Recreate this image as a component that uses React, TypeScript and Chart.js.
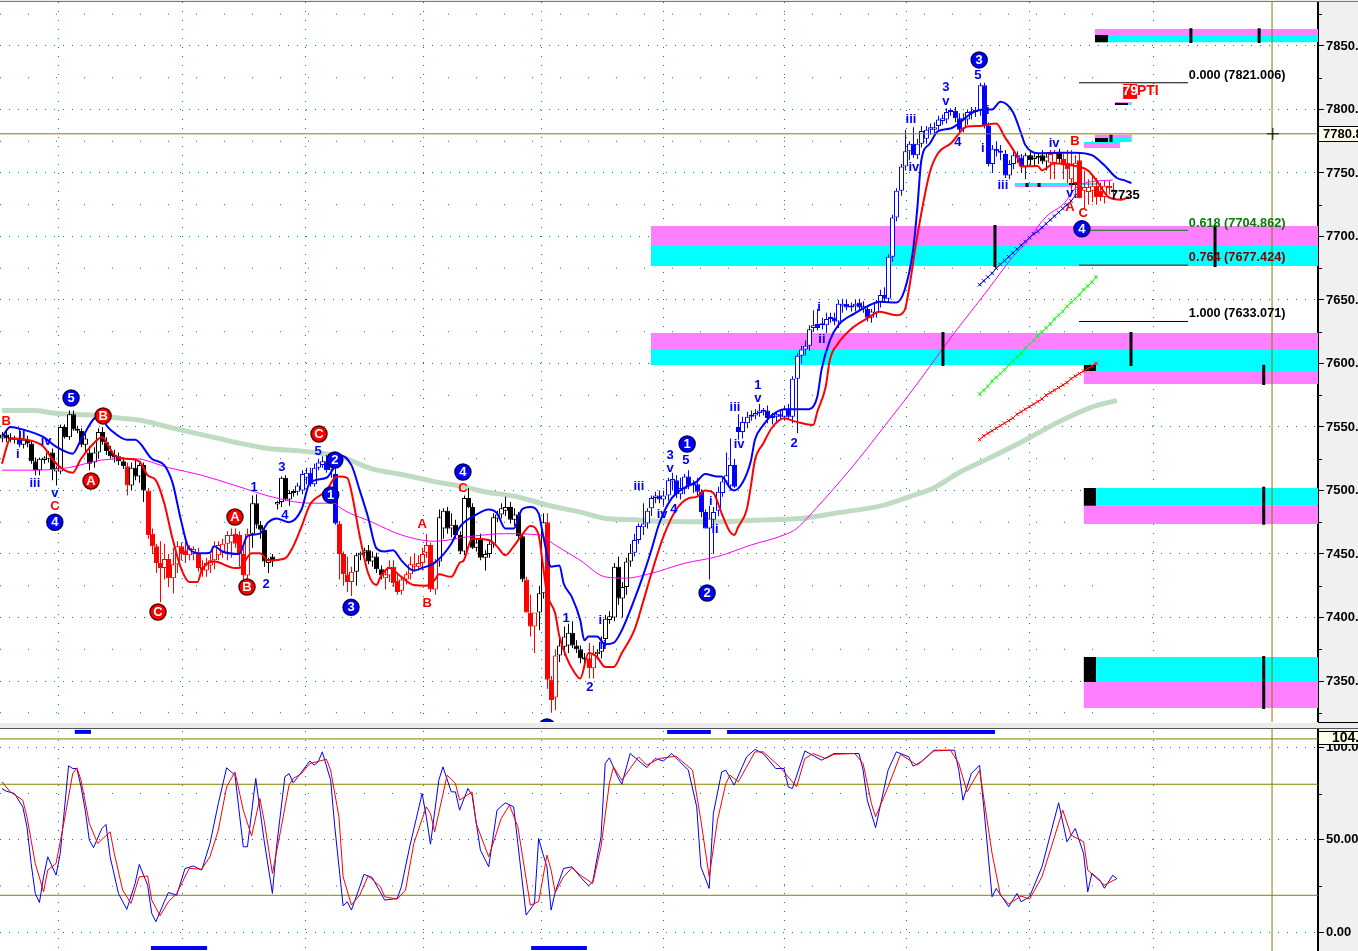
import React, { useEffect, useRef } from "react";
import { Chart, registerables } from "chart.js";

Chart.register(...registerables);

// ---- candles: [open, high, low, close], one row per bar, in bar order ----
const candlesA = [
  [7541,7546,7538,7544],[7544,7547,7538,7541],[7542,7545,7538,7540],[7540,7543,7537,7541],[7541,7549,7534,7536],
  [7536,7542,7533,7540],[7540,7543,7534,7537],[7537,7539,7521,7523],[7523,7526,7512,7516],[7516,7526,7512,7525],
  [7524,7527,7521,7526],[7525,7531,7522,7530],[7530,7533,7508,7517],[7515,7519,7504,7518],[7515,7552,7513,7550],
  [7550,7552,7541,7542],[7542,7563,7540,7560],[7560,7563,7547,7548],[7548,7551,7545,7547],[7547,7549,7534,7536],
  [7536,7546,7530,7541],[7530,7535,7516,7521],[7522,7534,7518,7530],[7530,7549,7525,7546],[7546,7550,7536,7538],
  [7538,7542,7528,7531],[7531,7535,7525,7527],[7528,7532,7522,7526],[7527,7530,7520,7523],[7523,7526,7517,7519],
];
const candlesB = [
  [7519,7522,7496,7504],[7504,7522,7500,7518],[7518,7525,7508,7511],[7511,7522,7506,7520],[7520,7522,7491,7500],
  [7500,7502,7462,7465],[7466,7470,7450,7456],[7456,7458,7435,7443],[7443,7460,7412,7439],[7439,7458,7430,7446],
  [7446,7450,7424,7431],[7431,7455,7419,7442],[7442,7460,7435,7456],[7456,7459,7445,7450],[7453,7460,7443,7449],
  [7449,7457,7445,7455],[7450,7456,7445,7454],[7450,7455,7436,7439],[7440,7445,7432,7437],[7437,7447,7432,7443],
  [7441,7450,7435,7445],[7445,7460,7438,7456],[7449,7460,7445,7457],[7451,7462,7447,7458],[7458,7468,7445,7465],
  [7459,7470,7447,7465],[7466,7470,7455,7458],[7465,7468,7440,7450],[7450,7455,7430,7433],[7433,7470,7430,7466],
];
const candlesC = [
  [7466,7496,7455,7490],[7490,7497,7470,7473],[7473,7476,7462,7469],[7469,7472,7440,7444],[7443,7447,7435,7446],
  [7448,7450,7440,7444],[7489,7492,7485,7491],[7491,7511,7487,7510],[7510,7512,7492,7493],[7493,7500,7488,7498],
  [7498,7501,7495,7499],[7499,7506,7496,7504],[7500,7516,7497,7513],[7510,7518,7505,7514],[7514,7518,7503,7505],
  [7505,7521,7503,7518],[7518,7525,7516,7522],[7520,7527,7518,7523],[7523,7528,7514,7516],[7516,7522,7510,7519],
  [7513,7520,7473,7474],[7474,7476,7430,7450],[7450,7452,7425,7434],[7434,7448,7420,7428],[7428,7440,7417,7436],
  [7436,7451,7425,7449],[7449,7452,7445,7451],[7451,7455,7446,7453],[7453,7457,7442,7444],[7444,7452,7440,7448],
];
const candlesD = [
  [7448,7451,7435,7438],[7438,7441,7430,7433],[7431,7437,7422,7434],[7433,7445,7428,7440],[7440,7445,7424,7427],
  [7429,7434,7418,7420],[7421,7432,7418,7430],[7430,7436,7426,7434],[7434,7448,7430,7442],[7440,7450,7436,7442],
  [7440,7449,7437,7443],[7443,7455,7437,7450],[7451,7466,7447,7457],[7457,7459,7420,7422],[7422,7446,7418,7444],
  [7444,7485,7440,7479],[7470,7486,7462,7484],[7484,7487,7466,7470],[7470,7482,7463,7473],[7473,7477,7462,7465],
  [7465,7468,7450,7452],[7452,7496,7449,7494],[7494,7502,7486,7487],[7487,7490,7454,7455],[7455,7462,7452,7459],
  [7462,7466,7445,7447],[7447,7453,7437,7450],[7450,7460,7447,7458],[7458,7482,7455,7479],[7478,7484,7475,7481],
];
const candlesE = [
  [7481,7490,7478,7486],[7484,7495,7480,7487],[7487,7491,7474,7477],[7477,7486,7472,7481],[7481,7483,7462,7464],
  [7464,7466,7428,7430],[7430,7432,7404,7404],[7404,7418,7385,7393],[7393,7403,7372,7404],[7404,7425,7390,7419],
  [7419,7482,7415,7475],[7475,7482,7344,7351],[7351,7354,7325,7335],[7337,7375,7327,7370],[7370,7384,7365,7378],
  [7377,7393,7370,7385],[7378,7395,7372,7388],[7388,7397,7376,7378],[7378,7382,7372,7375],[7375,7378,7364,7368],
  [7368,7372,7360,7367],[7368,7380,7352,7360],[7360,7378,7352,7371],[7371,7375,7367,7373],[7373,7385,7368,7381],
  [7383,7402,7378,7399],[7398,7405,7395,7401],[7400,7443,7397,7440],[7440,7448,7410,7415],[7415,7428,7400,7424],
];
const candlesF = [
  [7424,7447,7418,7444],[7444,7458,7440,7451],[7451,7466,7448,7461],[7461,7474,7458,7472],[7471,7490,7465,7474],
  [7474,7486,7470,7484],[7486,7496,7480,7494],[7494,7499,7490,7496],[7496,7500,7490,7493],[7493,7500,7488,7496],
  [7496,7510,7492,7508],[7507,7514,7500,7509],[7508,7512,7494,7497],[7497,7510,7493,7502],[7501,7513,7497,7511],
  [7511,7516,7501,7504],[7504,7508,7498,7505],[7505,7510,7496,7499],[7499,7501,7479,7483],[7483,7485,7470,7470],
  [7470,7488,7430,7478],[7477,7487,7450,7483],[7484,7503,7480,7499],[7498,7510,7495,7507],[7507,7530,7505,7512],
  [7504,7541,7500,7520],[7520,7525,7502,7503],[7550,7560,7540,7546],[7546,7558,7541,7554],[7553,7562,7549,7558],
];
const candlesG = [
  [7558,7563,7555,7559],[7559,7564,7556,7561],[7561,7568,7558,7563],[7562,7565,7559,7563],[7563,7567,7553,7557],
  [7557,7561,7552,7558],[7558,7561,7553,7560],[7560,7563,7556,7558],[7558,7567,7555,7564],[7564,7568,7556,7558],
  [7558,7590,7553,7588],[7588,7608,7545,7606],[7606,7614,7600,7611],[7611,7618,7606,7614],[7614,7630,7610,7627],
  [7628,7642,7625,7630],[7631,7643,7626,7628],[7630,7636,7627,7631],[7630,7640,7624,7635],[7635,7640,7632,7636],
  [7636,7640,7630,7633],[7633,7650,7628,7647],[7645,7651,7640,7647],[7647,7650,7642,7644],[7644,7648,7641,7645],
  [7645,7650,7641,7647],[7648,7651,7642,7644],[7643,7649,7640,7645],[7643,7646,7633,7636],[7636,7643,7632,7641],
];
const candlesH = [
  [7640,7650,7636,7648],[7648,7658,7644,7654],[7654,7660,7648,7651],[7651,7686,7648,7684],[7684,7717,7680,7715],
  [7715,7738,7712,7736],[7736,7757,7732,7755],[7755,7784,7752,7767],[7767,7775,7760,7773],[7773,7786,7762,7764],
  [7764,7777,7761,7773],[7773,7787,7770,7783],[7777,7787,7773,7784],[7784,7789,7780,7786],[7784,7790,7780,7786],
  [7787,7795,7783,7792],[7791,7796,7788,7793],[7792,7801,7789,7798],[7798,7801,7795,7799],[7799,7802,7790,7793],
  [7793,7797,7780,7784],[7785,7797,7782,7793],[7792,7800,7788,7798],[7797,7802,7792,7798],[7798,7802,7794,7799],
  [7799,7821,7795,7819],[7819,7821,7785,7787],[7787,7790,7755,7757],[7757,7772,7750,7769],[7769,7775,7763,7767],
];
const candlesI = [
  [7767,7772,7760,7766],[7765,7768,7746,7748],[7748,7760,7745,7757],[7757,7767,7753,7764],[7764,7767,7758,7762],
  [7762,7765,7750,7755],[7755,7766,7745,7764],[7764,7768,7756,7760],[7761,7766,7755,7763],[7762,7766,7757,7763],
  [7764,7768,7757,7759],[7759,7766,7752,7763],[7758,7768,7745,7765],[7758,7768,7745,7766],[7766,7769,7758,7761],
  [7761,7765,7745,7756],[7758,7768,7742,7753],[7745,7768,7735,7757],[7742,7764,7730,7758],[7760,7766,7730,7730],
  [7736,7752,7722,7739],[7735,7745,7725,7739],[7736,7749,7727,7740],[7740,7746,7725,7731],[7736,7742,7728,7731],
  [7731,7744,7726,7740],[7740,7744,7733,7738],[7737,7742,7731,7735],
];
const candles = [...candlesA, ...candlesB, ...candlesC, ...candlesD, ...candlesE, ...candlesF, ...candlesG, ...candlesH, ...candlesI];

// ---- overlays on the price panel: [bar, price] ----
const blueBand = [
  [0,7542],[2,7550],[5,7548],[10,7542],[13,7534.5],[17,7529],[19,7540],[23,7558],[26,7548],[30,7540],[32,7540],[36,7525],[39,7520],[41,7506],[43,7477],[45,7454],[48,7450.5],[50,7451],[51,7456],[53,7452],[57,7450],[59,7464],[62,7466],[64,7475],[66,7478],[69,7475],[72,7485],[74,7506],[78,7510],[80,7520],
  [81,7528],[84,7520],[86,7500],[88,7479],[90,7454.5],[92,7452],[94,7453],[96,7445],[99,7437],[101,7439],[104,7443],[108,7458],[110,7471],[114,7481],[117,7485],[119,7482],[121,7470],[123,7470],[125,7485],[127,7487],[129,7482],[130,7466],[132,7440],[134,7441],[135,7427],[137,7416],[139,7398],[140,7382],[141,7385],[143,7385],[145,7379],[147,7380],[149,7390],[152,7414],[154,7432],
  [156,7452],[158,7474],[161,7494],[164,7502],[167,7507],[169,7513],[172,7511],[173,7511],[175,7502],[176,7500],[178,7506],[180,7523],[181,7540],[183,7551.5],[185,7559],[188,7564],[194,7564],[196,7574],[197,7595],[199,7618],[201,7630],[205,7639.5],[208,7645],[211,7648.6],[215,7648],
  [217,7658],[219,7689],[220,7721],[221,7760],[223,7773],[225,7783],[228,7785],[230,7789],[233,7797],[236,7800],[238,7800],[240,7806],[243,7798],[245,7781],[246,7772],[249,7765.5],[254,7766],[258,7766],[262,7764],[265,7756],[268,7746],[270,7744],[271.5,7742],
];
const redBand = [
  [0,7521],[1,7533],[2,7541],[6,7540],[10,7534.5],[12,7525],[15,7516],[17,7514],[19,7525],[22,7537],[24,7542],[27,7528],[30,7525],[33,7523],[35,7512],[37,7508],[39,7490],[41,7462],[43,7439],[45,7428],[47,7428],[48,7437],[51,7444],[56,7439],[57,7439],[60,7450.5],[62,7450.5],[64,7445],[68,7446.5],[70,7456],[72,7471.5],[74,7488.6],[78,7500],[80,7510],
  [81,7511],[83,7510],[84,7499],[86,7464],[88,7435],[90,7425.5],[91,7432],[93,7439],[96,7432],[99,7425.5],[102,7425],[104,7429.5],[105,7434],[108,7432],[110,7443],[111,7445],[113,7462],[117,7461],[119,7456],[121,7449],[123,7456],[125,7465],[127,7472],[129,7465],[130,7442],[131,7419],[133,7403],[134,7385],[136,7366.5],[137,7360],[139,7352],[141,7372],[143,7369],[145,7361],[147,7361],[149,7372],[152,7390],[154,7411],
  [156,7433.4],[159,7463.6],[162,7484.6],[165,7493.8],[167,7495],[169,7500],[171,7498],[173,7482],[175,7467.5],[176,7464.9],[177,7471.5],[179,7484.6],[180,7503],[181,7524],[183,7537],[185,7549],[188,7556.8],[191,7554],[195,7551.5],[196,7562],[198,7581.7],[199,7602.7],[201,7615.8],[204,7626.8],[208,7635.5],[211,7640.8],[215,7638],[217,7642],
  [218,7658],[220,7700],[223,7750],[225,7765.5],[228,7773],[232,7786.5],[235,7787],[239,7789],[241,7778.6],[244,7763],[245,7755],[249,7755.5],[250,7752],[253,7757.6],[257,7756],[261,7752],[263,7744.5],[266,7731],[269,7729],[271,7731],
];
const magentaAverage = [
  [0,7516],[8,7516],[16,7518],[24,7524],[32,7525],[40,7518],[48,7512],[56,7504],[66,7494],[74,7490],[80,7490],[81,7487],[89,7475],[96,7465],[104,7460],[113,7464],[121,7466],[129,7465],[133,7457],[139,7445],[145,7432],[150,7431],[156,7434.7],[164,7442.6],[172,7448],[180,7457],[188,7465],[191,7470],[196,7487],[204,7517],[212,7550],[220,7584],[228,7620],[237,7658],[243,7684],[246,7694.6],[251,7715.6],[255,7725],[259,7740.5],[267,7744.5],
];
const greenAverage = [
  [0,7563],[8,7563],[12,7561],[21,7559.4],[28,7557],[33,7555.5],[40,7550],[48,7544],[56,7538],[64,7533],[72,7531],[81,7527],[89,7517],[97,7512],[104,7507],[111,7503],[116,7499],[124,7495],[131,7488.6],[139,7483],[145,7478],[152,7477],[156,7476],[172,7475.4],[184,7477],[192,7478],[200,7482],[212,7488.5],[218,7495],[224,7502],[230,7514],[238,7526.6],[246,7539.8],[254,7554],[262,7565.7],[268,7571],
];
const crossBars = [235,236,237,238,239,240,241,242,243,244,245,246,247,248,249,250,251,252,253,254,255,256,257,258,259,260,261,262,263];
const blueCrossLine = [7662,7665,7668,7671,7675,7678,7681,7684,7687,7690,7693,7696,7699,7702,7704,7707,7710,7713,7716,7719,7722,7725,7728,7732];
const greenCrossLine = [7576,7579,7582,7586,7589,7592,7595,7599,7602,7605,7608,7612,7615,7618,7622,7625,7628,7631,7635,7638,7641,7645,7648,7651,7654,7658,7661,7664,7668];
const redCrossLine = [7540,7543,7545,7547,7549,7551,7553,7555,7557,7560,7562,7564,7566,7568,7570,7572,7575,7577,7579,7581,7583,7585,7588,7590,7592,7594,7596,7598,7600];

// ---- zones: [start bar, end bar, upper price, lower price] ----
const LAST_BAR = 316.35;
const magentaZones = [
  [156,LAST_BAR,7708.3,7692.5],[156,LAST_BAR,7624,7610.6],[260,LAST_BAR,7594,7583.9],[260,LAST_BAR,7488,7473.6],[260,LAST_BAR,7349.2,7328.7],
  [262.7,LAST_BAR,7863.4,7858.7],[262.7,271.6,7780,7777.6],[260,268.8,7772.8,7769.7],[243.5,257.5,7740.6,7739],[267.5,271.6,7805.9,7805],
];
const cyanZones = [
  [156,LAST_BAR,7692.5,7676.8],[156,LAST_BAR,7610.6,7598.8],[263,LAST_BAR,7598.8,7594],[263,LAST_BAR,7502,7488],[263,LAST_BAR,7368.9,7349.2],
  [262.7,LAST_BAR,7858.7,7853],[262.7,271.6,7777.6,7774.4],[260,268.8,7774.4,7772.8],[243.5,263,7742,7740.6],[270.7,271.6,7805,7803.5],
];
const blackZones = [
  [260,263,7598.8,7594],[260,263,7502,7488],[260,263,7368.9,7349.2],[262.7,265.9,7858.7,7853],[262.7,265.9,7777.6,7774.4],[267.5,270.7,7805,7803.5],[256.5,259.5,7742,7740.6],
];
// [bar, upper price, lower price]
const zoneMarks = [
  [238.7,7709,7676],[291.6,7709,7676],[226.2,7624.8,7598],[271.4,7624.8,7598],[303.3,7599,7583],[303.3,7503,7473],[303.3,7369.7,7328],
  [285.8,7864,7852.4],[302.2,7864,7852.4],[266.6,7780,7774.4],[246.4,7742,7739],[249.3,7742,7739],
];

// ---- Fibonacci levels: [start bar, end bar, price] ----
const fibZero = [258.9,285.1,7821.006];
const fibGolden = [261.5,285.1,7704.862];
const fibDeep = [258.9,285.1,7677.424];
const fibFull = [258.9,285.1,7633.071];

// ---- reference levels ----
const currentPrice = 7780.8;
const cursorBar = 305.3;
const oscillatorLevels = [104.5,80,20];
const minorPriceLevels = [7325,7375,7425,7475,7525,7575,7625,7675,7725,7775,7825,7875];
const minorOscillatorLevels = [25,75];
const sessionBars = [28.4,58.2,87.7,114.9,144.5,173.3,203.1,232,261.8];

// ---- oscillator: [bar, value] ----
const stochK = [
  [0,77.7],[1,76.3],[3,75],[5,67.8],[6,57],[7,37.2],[8,21],[9,16.1],[10,30],[11,40.8],[13,30.9],[14,42.6],[16,90],[17,88.5],[18,88.5],[19,78.6],[20,66],[21,49.8],[22,45.8],[24,56],[25,58.3],[26,40.8],[28,21],[30,12.4],[32,26.4],[33,36.7],[35,25.5],[36,10.2],[37,5.7],[39,16.5],[40,21.5],[42,20.1],[44,34.5],[46,35.8],[48,33.6],[50,48],[52,69.6],[54,88.9],[56,84.9],[58,46.2],[59,46.2],[61,83.1],[63,49.8],[65,21],[66,46.2],[68,84],[69,85.8],[70,80.8],[71,83.6],[74,92.6],[75,90.3],[76,92.1],[77,97.5],[79,82.2],[80,57],[82,14.3],[83,16.5],[84,12],[86,24.6],[87,31.3],[89,29.6],[92,17.4],[95,18.3],[96,24.6],[98,46.2],[101,75],[102,62.4],[103,47.6],[105,82.2],[106,89.4],[108,75.9],[109,75.9],[110,66],[112,77.7],[113,74.1],[115,44.4],[117,35.4],[119,66],[121,70],[123,67.8],[124,48],[126,9.3],[128,15.6],[129,50.7],[130,42.6],[131,35.4],
  [132,12],[133,21.9],[135,34.5],[137,35.4],[139,30],[141,25.1],[142,27.3],[144,51.6],[145,91.2],[146,94.3],[148,84],[149,80],[151,96.6],[155,89],[157,93.9],[159,92.6],[161,96.6],[163,92.1],[165,87.6],[167,67.8],[168,35.4],[170,23.7],[171,64.2],[173,86.7],[174,87.6],[176,79.5],[179,94.8],[181,98.8],[183,96.6],[186,88.5],[188,88.5],[189,78.6],[190,77.7],[193,98],[197,93],[200,96.6],[206,96.6],[207,87.6],[208,71.4],[210,56.6],[213,87.6],[215,97.5],[218,94.8],[219,89.8],[221,92.1],[224,98.4],[229,98.4],[230,87.6],[231,71.4],[233,85.8],[235,90.3],[236,67.8],[238,19.2],[239,23.7],[242,13.8],[244,21],[245,16.5],[247,19.2],[250,35.4],[254,70],[256,48.9],[258,56.1],[260,42.6],[261,21.8],[262,31.9],[264,28],[265,23.8],[267,30.8],[268,29],
];
const stochD = [
  [0,81.3],[2,75.9],[5,71.4],[6,62.4],[8,37.2],[10,21.9],[11,33.6],[13,37.2],[15,60.6],[17,85.8],[18,88.9],[19,82.2],[21,58.8],[23,48],[26,54.3],[27,42.6],[29,22.8],[31,15.6],[33,30],[35,30.4],[36,17.4],[38,9],[40,16.5],[42,21],[45,34.5],[48,34.1],[50,40.8],[52,55.2],[54,78.6],[56,86.7],[58,66],[60,52.1],[62,72.3],[63,60.6],[65,31.8],[67,55.2],[69,79.5],[70,83.1],[72,85.8],[74,91.2],[78,93.5],[79,87.6],[81,62.4],[82,30],[84,14.7],[86,20.1],[88,30.5],[91,24.6],[92,19.2],[95,17.9],[97,22.8],[99,48],[102,67.8],[103,64.2],[104,54.3],[107,84.9],[109,80.4],[110,71.4],[113,75.9],[114,58.8],[117,40.8],[120,61.5],[122,68.7],[124,57],[127,14.7],[129,16.5],[131,41.7],
  [132,33.6],[133,21.5],[135,30],[137,34.9],[139,30.9],[142,26.4],[144,46.2],[146,80.4],[147,89.4],[149,82.2],[153,94.8],[155,90.3],[158,93.9],[162,95.2],[166,87.6],[168,60.6],[170,30],[172,60.6],[174,80.4],[175,84.9],[177,81.3],[181,97.5],[183,97.5],[187,89.4],[191,78.6],[193,93.9],[195,96.6],[198,93.9],[200,96.2],[205,96.6],[207,91.2],[209,69.6],[210,62.4],[213,78.6],[216,96.2],[220,90.3],[224,98],[228,98.4],[230,91.2],[232,75.9],[235,87.6],[238,42.6],[240,20.1],[242,15.2],[245,19.6],[247,17.9],[250,30],[255,66],[257,52.5],[260,48.9],[261,33.6],[265,25.5],[268,29],
];
// [start bar, end bar, level]
const signalStrips = [
  [17.5,21.4,108.3],[159.9,170.4,108.3],[174.3,238.7,108.3],[35.8,49.3,-8.5],[127.2,140.6,-8.5],
];

// ---- labels: [text, bar, price] ----
const blueWaveLabels = [
  ["i",3.8,7528.7],["ii",4.8,7544.5],["iii",7.9,7505.9],["iv",10.6,7539],["v",12.7,7498],["1",60.6,7502.8],["2",63.5,7426.4],["3",67.3,7518.5],["4",68,7480.7],["5",76,7531.1],
  ["1",135.6,7399.6],["2",141.3,7345.3],["i",143.8,7398],["ii",144.5,7378.3],["iii",153.1,7503.5],["iv",158.7,7481.5],["4",161.5,7485.4],["3",160.6,7528],["v",160.6,7517],["5",164.4,7524],["i",170.4,7491],["ii",171.4,7469],
  ["iii",176.2,7565.7],["iv",177.2,7536.6],["1",181.7,7583.1],["v",181.7,7572.8],["2",190.4,7537.4],["i",196.4,7644.5],["ii",197.1,7619.3],["iii",218.5,7792.5],["iv",219.2,7754.7],["3",226.9,7817],["v",226.9,7806],["4",229.8,7774.4],
  ["5",234.6,7826.4],["i",237,7799.6],["i",235.8,7769.7],["iii",240.6,7739.8],["iv",252.9,7773.6],["v",256.7,7733.5],
];
const redWaveLabels = [
  ["B",1,7554.7],["C",12.7,7487.8],["A",101,7473.6],["B",102.2,7411.4],["C",110.8,7502],["B",257.9,7775.2],["A",256.7,7723.2],["C",259.9,7718.5],
];
const blueBadges = [
  ["4",12.7,7475],["5",16.6,7572.8],["2",80,7524],["1",79,7496.5],["3",83.9,7408],["4",110.8,7514.6],["5",131,7313.8],["1",164.7,7536.6],["2",169.5,7419.3],["3",234.9,7839],["4",259.6,7706],
];
const redBadges = [
  ["B",24.3,7558.7],["A",21.4,7507.5],["C",37.5,7404.3],["A",56,7479.1],["B",58.9,7424],["C",76.2,7544.5],
];
const fibLabels = [
  ["0.000 (7821.006)",285.3,7826.4],["0.618 (7704.862)",285.3,7710.6],["0.764 (7677.424)",285.3,7683.1],["1.000 (7633.071)",285.3,7639],
];
const priceNote = ["7735",270,7732];
const tagNumber = ["79",271.2,7814.6];
const tagName = ["PTI",275.2,7814.6];

// ---- styling helpers ----
const INK: Record<string, string> = { k: "#000000", b: "#0000ff", r: "#ff0000" };
const inkRuns: [number, string][] = [[0,"k"],[4,"b"],[5,"k"],[30,"r"],[31,"k"],[35,"r"],[60,"k"],[71,"b"],[81,"r"],[85,"k"],[92,"r"],[105,"k"],[126,"r"],[129,"k"],[131,"r"],[134,"k"],[141,"r"],[143,"k"],[152,"b"],[247,"k"],[252,"r"],[254,"k"],[255,"r"]];
const inkFor = (i: number) => {
  let c = "k";
  for (const [from, v] of inkRuns) if (i >= from) c = v;
  return INK[c];
};
const SANS = '"Liberation Sans", Arial, sans-serif';
const OLIVE = "#808000";
const TEAL = "#008080";
const pts = (s: number[][]) => s.map(([x, y]) => ({ x, y }));
const baseLine = { type: "line", pointRadius: 0, fill: false, tension: 0, spanGaps: true };
// one bar occupies 4.16 canvas pixels; bars are nudged to whole pixels so that they stay crisp
const X_MIN = -0.48;
const PX_PER_BAR = 4.16;
const snapBar = (i: number, shift: number) => (Math.round((i - X_MIN) * PX_PER_BAR) + shift) / PX_PER_BAR + X_MIN;

function buildDatasets(): any[] {
  const out: any[] = [];
  const zone = (z: number[], color: string, order: number) =>
    out.push({ ...baseLine, data: [{ x: z[0], y: z[2] }, { x: z[1], y: z[2] }], borderWidth: 0, borderColor: "transparent", backgroundColor: color, fill: { value: z[3] }, order, yAxisID: "y" });
  magentaZones.forEach((z) => zone(z, "#ff80ff", 100));
  cyanZones.forEach((z) => zone(z, "#00ffff", 100));
  blackZones.forEach((z) => zone(z, "#000000", 99));

  minorPriceLevels.forEach((v) =>
    out.push({ ...baseLine, data: [{ x: X_MIN, y: v }, { x: 263, y: v }], borderColor: TEAL, borderWidth: 1, borderDash: [1, 27], order: 110, yAxisID: "y" }));
  minorOscillatorLevels.forEach((v) =>
    out.push({ ...baseLine, data: [{ x: X_MIN, y: v }, { x: 263, y: v }], borderColor: TEAL, borderWidth: 1, borderDash: [1, 27], order: 110, yAxisID: "y2" }));

  out.push({ ...baseLine, data: pts(greenAverage), borderColor: "#c0dcc0", borderWidth: 5, order: 70, yAxisID: "y", cubicInterpolationMode: "monotone" });

  const bars = candles.map((c, i) => ({ c, i }));
  out.push({
    type: "bar", grouped: false, barThickness: 1, order: 60, yAxisID: "y", inflateAmount: 0,
    data: bars.map(({ c, i }) => ({ x: snapBar(i, 0.5), y: [c[2], c[1]] })),
    backgroundColor: bars.map(({ i }) => inkFor(i)),
    borderWidth: 0,
  });
  out.push({
    type: "bar", grouped: false, barThickness: 5, order: 55, yAxisID: "y", minBarLength: 2, inflateAmount: 0,
    data: bars.map(({ c, i }) => ({ x: snapBar(i, 0.5), y: [Math.min(c[0], c[3]), Math.max(c[0], c[3])] })),
    backgroundColor: bars.map(({ c, i }) => (c[3] >= c[0] ? "#ffffff" : inkFor(i))),
    borderColor: bars.map(({ i }) => inkFor(i)),
    borderWidth: 1, borderSkipped: false,
  });

  out.push({ ...baseLine, data: pts(magentaAverage), borderColor: "#ff00ff", borderWidth: 1, order: 50, yAxisID: "y", cubicInterpolationMode: "monotone" });
  out.push({ ...baseLine, data: pts(redBand), borderColor: "#ff0000", borderWidth: 2, order: 40, yAxisID: "y", cubicInterpolationMode: "monotone" });
  out.push({ ...baseLine, data: pts(blueBand), borderColor: "#0000ff", borderWidth: 2, order: 35, yAxisID: "y", cubicInterpolationMode: "monotone" });

  const crossed = (vals: number[], color: string) =>
    out.push({ ...baseLine, data: vals.map((y, k) => ({ x: crossBars[k], y })), borderColor: color, borderWidth: 1, pointRadius: 2.5, pointStyle: "crossRot", pointBorderColor: color, pointBorderWidth: 1, order: 30, yAxisID: "y" });
  crossed(blueCrossLine, "#0000ff");
  crossed(greenCrossLine, "#00ff00");
  crossed(redCrossLine, "#ff0000");

  zoneMarks.forEach(([x, a, b]) =>
    out.push({ ...baseLine, data: [{ x, y: a }, { x, y: b }], borderColor: "#000000", borderWidth: 3, order: 28, yAxisID: "y" }));

  const fib = (f: number[], color: string) =>
    out.push({ ...baseLine, data: [{ x: f[0], y: f[2] }, { x: f[1], y: f[2] }], borderColor: color, borderWidth: 1, order: 27, yAxisID: "y" });
  fib(fibZero, "#000000");
  fib(fibGolden, "#008000");
  fib(fibDeep, "#800000");
  fib(fibFull, "#000000");

  const level = (v: number, axis: string) =>
    out.push({ ...baseLine, data: [{ x: X_MIN, y: v }, { x: LAST_BAR, y: v }], borderColor: OLIVE, borderWidth: 1, order: 25, yAxisID: axis });
  level(currentPrice, "y");
  oscillatorLevels.forEach((v) => level(v, "y2"));
  out.push({ ...baseLine, data: [{ x: cursorBar, y: 7313 }, { x: cursorBar, y: 7884.6 }], borderColor: OLIVE, borderWidth: 1, order: 24, yAxisID: "y" });
  out.push({ ...baseLine, data: [{ x: cursorBar, y: -10.1 }, { x: cursorBar, y: 110.4 }], borderColor: OLIVE, borderWidth: 1, order: 24, yAxisID: "y2" });
  out.push({ ...baseLine, data: [{ x: cursorBar + 0.2, y: currentPrice }], showLine: false, pointRadius: 6, pointStyle: "cross", pointBorderColor: "#000000", pointBorderWidth: 1, order: 23, yAxisID: "y" });

  out.push({ ...baseLine, data: pts(stochK), borderColor: "#0000ff", borderWidth: 1, order: 22, yAxisID: "y2" });
  out.push({ ...baseLine, data: pts(stochD), borderColor: "#ff0000", borderWidth: 1, order: 21, yAxisID: "y2" });
  signalStrips.forEach((s) =>
    out.push({ ...baseLine, data: [{ x: s[0], y: s[2] }, { x: s[1], y: s[2] }], borderColor: "#0000ff", borderWidth: 4, order: 20, yAxisID: "y2" }));

  const badge = (list: any[], fillColor: string, edge: string) =>
    out.push({ ...baseLine, showLine: false, data: list.map((b) => ({ x: b[1], y: b[2] })), pointRadius: 8, pointStyle: "circle", pointBackgroundColor: fillColor, pointBorderColor: edge, pointBorderWidth: 1.5, order: 10, yAxisID: "y" });
  badge(blueBadges, "#0000ff", "#000060");
  badge(redBadges, "#ff0000", "#600000");
  return out;
}

const labelPlugin = {
  id: "chartText",
  beforeDraw(chart: any) {
    const { ctx, width, height } = chart;
    ctx.save();
    ctx.fillStyle = "#ffffff";
    ctx.fillRect(0, 0, width, height);
    ctx.fillStyle = "#f0f0f0";
    ctx.fillRect(1318, 0, 40, height);
    ctx.restore();
  },
  afterDraw(chart: any) {
    const { ctx, scales, width } = chart;
    const xAt = (b: number) => scales.x.getPixelForValue(b);
    const yAt = (p: number) => scales.y.getPixelForValue(p);
    ctx.save();

    // minor axis ticks
    ctx.strokeStyle = "#000000";
    ctx.lineWidth = 1;
    [scales.y, scales.y2].forEach((s: any) =>
      s.ticks.forEach((t: any) => {
        if (t.value % 50 !== 0) {
          const py = Math.round(s.getPixelForValue(t.value)) + 0.5;
          ctx.beginPath(); ctx.moveTo(1319, py); ctx.lineTo(1322, py); ctx.stroke();
        }
      }));

    // wave labels
    ctx.textAlign = "center";
    ctx.textBaseline = "middle";
    ctx.font = `bold 13px ${SANS}`;
    ctx.fillStyle = "#0000ff";
    blueWaveLabels.forEach((l: any) => ctx.fillText(l[0], xAt(l[1]), yAt(l[2])));
    ctx.fillStyle = "#ff0000";
    redWaveLabels.forEach((l: any) => ctx.fillText(l[0], xAt(l[1]), yAt(l[2])));
    ctx.font = `bold 13px ${SANS}`;
    ctx.fillStyle = "#ffffff";
    [...blueBadges, ...redBadges].forEach((l: any) => ctx.fillText(l[0], xAt(l[1]), yAt(l[2]) + 0.5));

    // Fibonacci labels
    ctx.textAlign = "left";
    ctx.font = `bold 12.7px ${SANS}`;
    ["#000000", "#008000", "#800000", "#000000"].forEach((c, k) => {
      const l: any = fibLabels[k];
      ctx.fillStyle = c;
      ctx.fillText(l[0], xAt(l[1]), yAt(l[2]));
    });

    // notes
    ctx.textAlign = "center";
    ctx.fillStyle = "#000000";
    ctx.font = `bold 13px ${SANS}`;
    ctx.fillText(priceNote[0], xAt(priceNote[1] as number), yAt(priceNote[2] as number));
    ctx.font = `bold 14px ${SANS}`;
    const tx = xAt(tagNumber[1] as number), ty = yAt(tagNumber[2] as number);
    ctx.fillStyle = "#ff0000";
    ctx.fillRect(tx - 7, ty - 7, 14, 15);
    ctx.fillStyle = "#ffffff";
    ctx.fillText(tagNumber[0], tx, ty + 0.5);
    ctx.fillStyle = "#ff0000";
    ctx.fillText(tagName[0], xAt(tagName[1] as number) + 1, ty + 0.5);

    // panel divider and top edge
    ctx.fillStyle = "#ffffff";
    ctx.fillRect(0, 722, width, 1);
    ctx.fillStyle = "#ececec";
    ctx.fillRect(0, 723, width, 5);
    ctx.fillStyle = "#555555";
    ctx.fillRect(0, 728, width, 1);
    ctx.fillStyle = "#000000";
    ctx.fillRect(1318, 722, 40, 1);
    ctx.fillStyle = "#ececec";
    ctx.fillRect(0, 0, width, 1);
    ctx.fillStyle = "#777777";
    ctx.fillRect(0, 1, width, 1);

    // current value tags
    const tag = (text: string, top: number, h: number, left: number, font: string) => {
      ctx.fillStyle = "#ffffe8";
      ctx.fillRect(1318, top, 40, h);
      ctx.strokeStyle = "#000000";
      ctx.lineWidth = 1;
      ctx.strokeRect(1318.5, top + 0.5, 41, h - 1);
      ctx.fillStyle = "#000000";
      ctx.textAlign = "left";
      ctx.font = font;
      ctx.fillText(text, left, top + h / 2 + 0.5);
    };
    tag(currentPrice.toFixed(1) + "0", 126, 16, 1323, `bold 13px ${SANS}`);
    tag(oscillatorLevels[0].toFixed(2), 731, 14, 1332, `bold 14px ${SANS}`);
    ctx.restore();
  },
};

const noScalePadding = (s: any) => {
  s.width = 40;
  s.paddingTop = 0;
  s.paddingBottom = 0;
  s.paddingLeft = 0;
  s.paddingRight = 0;
};

export default function App() {
  const ref = useRef<HTMLCanvasElement | null>(null);
  useEffect(() => {
    document.body.style.margin = "0";
    const axisTick = {
      autoSkip: false, stepSize: 25, includeBounds: false, padding: 2, color: "#000000",
      font: { family: SANS, weight: "bold", size: 13 },
      callback: (v: number) => (v % 50 === 0 ? v.toFixed(2) : ""),
    };
    const axisGrid = {
      color: (c: any) => (c.tick && c.tick.value % 50 === 0 ? TEAL : "transparent"),
      tickColor: (c: any) => (c.tick && c.tick.value % 50 === 0 ? "#000000" : "transparent"),
      tickLength: 6, lineWidth: 1, tickWidth: 1,
    };
    const axisBorder = { color: "#000000", width: 2, dash: [1, 8] };
    const chart = new Chart(ref.current as HTMLCanvasElement, {
      type: "line",
      data: { datasets: buildDatasets() },
      plugins: [labelPlugin],
      options: {
        animation: false, responsive: false, devicePixelRatio: 1,
        layout: { autoPadding: false, padding: { top: 2, left: 0, right: 0, bottom: 0 } },
        plugins: { legend: { display: false }, tooltip: { enabled: false } },
        events: [],
        scales: {
          x: {
            type: "linear", min: X_MIN, max: LAST_BAR, offset: false,
            ticks: { display: false },
            afterBuildTicks: (s: any) => { s.ticks = sessionBars.map((value) => ({ value })); },
            afterFit: (s: any) => { s.height = 0; s.paddingLeft = 0; s.paddingRight = 0; s.paddingTop = 0; s.paddingBottom = 0; },
            grid: { color: TEAL, drawTicks: false, lineWidth: 1 },
            border: { display: false, dash: [1, 8] },
          },
          y: {
            type: "linear", position: "right", min: 7313, max: 7884.6, stack: "panels", stackWeight: 726,
            ticks: axisTick, grid: axisGrid, border: axisBorder,
            afterFit: noScalePadding,
          },
          y2: {
            type: "linear", position: "right", min: -10.1, max: 110.4, stack: "panels", stackWeight: 223,
            ticks: axisTick, grid: axisGrid, border: axisBorder,
            afterFit: noScalePadding,
          },
        },
      } as any,
    } as any);
    return () => chart.destroy();
  }, []);
  return (
    <div style={{ position: "absolute", left: 0, top: 0, width: 1358, height: 951 }}>
      <canvas ref={ref} width={1358} height={951} style={{ display: "block" }} />
    </div>
  );
}
